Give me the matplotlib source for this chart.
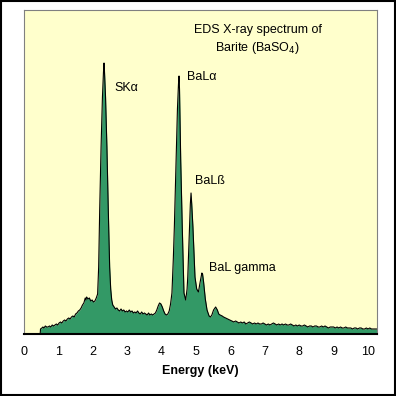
import numpy as np
import matplotlib.pyplot as plt
from matplotlib.patches import Rectangle

plt.rcParams['font.family'] = ['Liberation Sans', 'DejaVu Sans']

# Espectro EDS (energia en keV, intensidad en unidades arbitrarias)
energy = [0.47, 0.48, 0.52, 0.55, 0.58, 0.62, 0.66, 0.70, 0.74, 0.78, 0.82, 0.86, 0.90, 0.94, 0.98,
          1.02, 1.06, 1.10, 1.14, 1.18, 1.22, 1.26, 1.30, 1.34, 1.38, 1.42, 1.46, 1.50, 1.54, 1.58,
          1.62, 1.66, 1.70, 1.74, 1.78, 1.80, 1.82, 1.86, 1.90, 1.94, 1.98, 2.02, 2.06, 2.10, 2.14,
          2.17, 2.20, 2.24, 2.28, 2.31, 2.326, 2.34, 2.37, 2.41, 2.45, 2.49, 2.52, 2.55, 2.58, 2.62,
          2.66, 2.70, 2.74, 2.78, 2.82, 2.86, 2.90, 2.94, 2.98, 3.02, 3.06, 3.10, 3.14, 3.18, 3.22,
          3.26, 3.30, 3.34, 3.38, 3.42, 3.46, 3.50, 3.54, 3.58, 3.62, 3.66, 3.70, 3.74, 3.78, 3.82,
          3.86, 3.90, 3.94, 3.98, 4.02, 4.06, 4.10, 4.14, 4.18, 4.22, 4.26, 4.30, 4.34, 4.37, 4.42,
          4.46, 4.49, 4.506, 4.52, 4.555, 4.60, 4.65, 4.70, 4.74, 4.76, 4.81, 4.835, 4.855, 4.875, 4.91,
          4.97, 5.02, 5.07, 5.12, 5.17, 5.19, 5.22, 5.27, 5.32, 5.38, 5.42, 5.46, 5.51, 5.57, 5.62,
          5.66, 5.70, 5.76, 5.80, 5.86, 5.92, 5.98, 6.04, 6.10, 6.15, 6.20, 6.25, 6.30, 6.35, 6.40,
          6.45, 6.50, 6.55, 6.60, 6.65, 6.70, 6.75, 6.80, 6.85, 6.90, 6.95, 7.00, 7.05, 7.10, 7.15,
          7.20, 7.25, 7.30, 7.35, 7.40, 7.45, 7.50, 7.55, 7.60, 7.65, 7.70, 7.75, 7.80, 7.85, 7.90,
          7.95, 8.00, 8.05, 8.10, 8.15, 8.20, 8.25, 8.30, 8.35, 8.40, 8.45, 8.50, 8.55, 8.60, 8.65,
          8.70, 8.75, 8.80, 8.85, 8.90, 8.95, 9.00, 9.05, 9.10, 9.15, 9.20, 9.25, 9.30, 9.35, 9.40,
          9.45, 9.50, 9.55, 9.60, 9.65, 9.70, 9.75, 9.80, 9.85, 9.90, 9.95, 10.00, 10.05, 10.10, 10.15,
          10.20, 10.26]
counts = [0, 5, 6, 7, 6, 8, 7, 7, 8, 7, 9, 8, 9, 10, 9,
          11, 12, 11, 13, 14, 13, 15, 16, 15, 17, 18, 17, 20, 21, 23,
          24, 26, 29, 31, 36, 34, 37, 35, 36, 33, 34, 32, 33, 36, 40,
          67, 124, 187, 237, 262, 271, 262, 237, 187, 124, 67, 45, 34, 29, 27,
          25, 26, 24, 23, 25, 23, 24, 22, 23, 22, 24, 22, 23, 21, 22,
          21, 23, 21, 20, 22, 20, 21, 20, 19, 21, 19, 20, 19, 20, 21,
          24, 28, 31, 30, 27, 23, 20, 19, 20, 23, 30, 41, 75, 107, 174,
          225, 250, 258, 245, 174, 107, 41, 34, 45, 57, 107, 130, 141, 130, 107,
          57, 45, 42, 52, 61, 60, 52, 35, 24, 18, 17, 19, 24, 27, 24,
          20, 19, 18, 17, 16, 15, 14, 13, 12, 13, 12, 11, 12, 11, 12,
          10, 11, 12, 11, 10, 11, 10, 11, 10, 10, 11, 10, 9, 10, 9,
          10, 11, 10, 9, 10, 9, 10, 9, 10, 9, 9, 10, 9, 8, 9,
          8, 9, 8, 8, 9, 8, 7, 8, 8, 7, 8, 8, 7, 7, 8,
          7, 8, 7, 6, 7, 7, 7, 6, 7, 6, 7, 6, 6, 7, 6,
          6, 6, 5, 6, 6, 5, 6, 6, 5, 5, 6, 5, 6, 5, 5,
          5, 5]

energy = np.array(energy)
counts = np.array(counts)

# Etiquetas de los picos (texto, energia, intensidad)
peak_labels = ["SK\u03b1", "BaL\u03b1", "BaL\u00df", "BaL gamma"]
peak_x = [2.62, 4.75, 4.97, 5.39]
peak_y = [246, 257, 153, 66]

fig = plt.figure(figsize=(3.96, 3.96), dpi=100)
fig.patch.set_facecolor("white")
ax = fig.add_axes([0.0606, 0.1566, 0.8914, 0.8181])
ax.set_facecolor("#FFFFCC")

ax.fill_between(energy, counts, 0, color="#339966", linewidth=0)
ax.plot(energy, counts, color="black", linewidth=0.8)

for txt, x, y in zip(peak_labels, peak_x, peak_y):
    ax.text(x, y, txt, fontsize=9, va="center", ha="left")

ax.text(6.8, 304, "EDS X-ray spectrum of", fontsize=9, ha="center", va="center")
ax.text(6.8, 286, "Barite (BaSO$_4$)", fontsize=9, ha="center", va="center")

ax.set_xlim(0, 10.26)
ax.set_ylim(0, 324)
ax.set_xticks(range(0, 11))
ax.set_yticks([])
ax.tick_params(axis="x", length=0, pad=9, labelsize=9)
ax.set_xlabel("Energy (keV)", fontsize=9, fontweight="bold", labelpad=5)

for side in ["left", "top", "right"]:
    ax.spines[side].set_color("#808080")
ax.spines["bottom"].set_color("black")
ax.spines["bottom"].set_linewidth(1.5)

# Marco negro alrededor de la figura
fig.patches.append(Rectangle((0.002, 0.002), 0.996, 0.996, transform=fig.transFigure,
                             fill=False, edgecolor="black", linewidth=1.5))

fig.savefig("out.png", dpi=100)
